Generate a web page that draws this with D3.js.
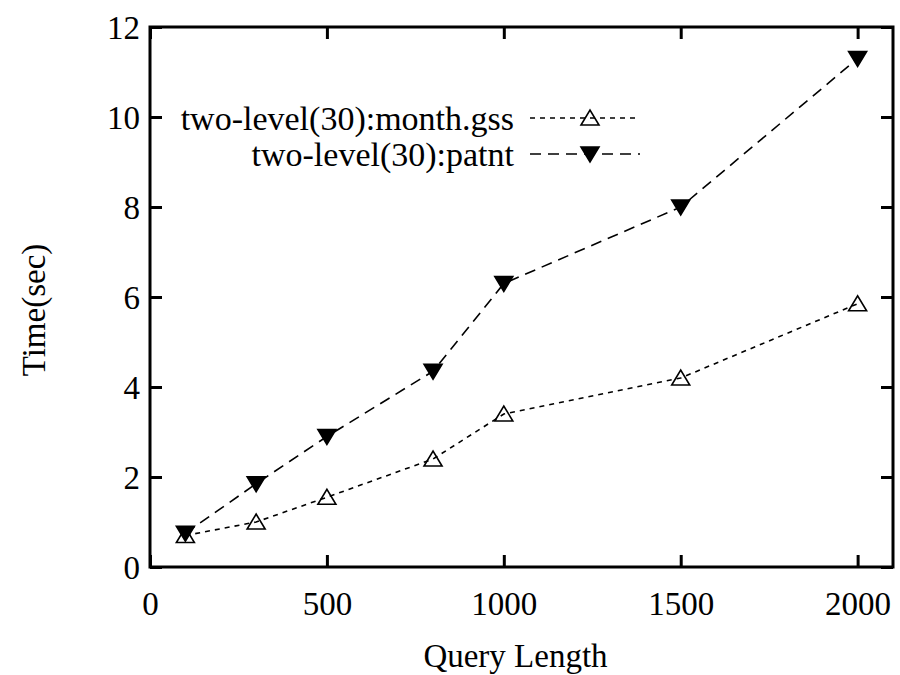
<!DOCTYPE html>
<html><head><meta charset="utf-8">
<script src="https://cdn.jsdelivr.net/npm/d3@7"></script>
<style>body{margin:0;background:#fff}svg{display:block}text{font-family:"Liberation Serif","Times New Roman",serif;fill:#000}</style>
</head><body>
<script>
const queryLength = [100, 300, 500, 800, 1000, 1500, 2000];
const monthGss = [0.7, 1.0, 1.55, 2.4, 3.4, 4.2, 5.85];
const patnt = [0.75, 1.85, 2.9, 4.35, 6.3, 8.0, 11.3];
const seriesNames = ["two-level(30):month.gss", "two-level(30):patnt"];
const xTicks = [0, 500, 1000, 1500, 2000];
const yTicks = [0, 2, 4, 6, 8, 10, 12];

const W = 900, H = 675;
const L = 150, R = 893, T = 27, B = 567;
const svg = d3.select("body").append("svg").attr("width", W).attr("height", H);
const x = d3.scaleLinear().domain([0, 2100]).range([L, R]);
const y = d3.scaleLinear().domain([0, 12]).range([B, T]);
const fs = 33;
const lfs = 34;
const ff = "Liberation Serif";

const xAxis = svg.append("g").attr("transform", `translate(0,${B})`)
  .call(d3.axisBottom(x).tickValues(xTicks).tickSize(-12).tickPadding(25).tickFormat(d3.format("d")));
const yAxis = svg.append("g").attr("transform", `translate(${L},0)`)
  .call(d3.axisLeft(y).tickValues(yTicks).tickSize(-12).tickPadding(10).tickFormat(d3.format("d")));
const xTop = svg.append("g").attr("transform", `translate(0,${T})`)
  .call(d3.axisTop(x).tickValues(xTicks).tickSize(-12).tickFormat(""));
const yRight = svg.append("g").attr("transform", `translate(${R},0)`)
  .call(d3.axisRight(y).tickValues(yTicks).tickSize(-12).tickFormat(""));
[xAxis, yAxis, xTop, yRight].forEach(g => {
  g.attr("font-family", ff).attr("font-size", fs);
  g.select(".domain").remove();
  g.selectAll(".tick line").attr("stroke", "#000").attr("stroke-width", 3);
  g.selectAll(".tick text").attr("font-size", fs).attr("font-family", ff);
});
xAxis.selectAll(".tick text").attr("dy", "0.71em");
yAxis.selectAll(".tick text").attr("dy", "0.35em");
svg.append("rect").attr("x", L).attr("y", T).attr("width", R - L).attr("height", B - T)
  .attr("fill", "none").attr("stroke", "#000").attr("stroke-width", 3);

svg.append("text").attr("x", (L + R) / 2 - 6).attr("y", 667).attr("text-anchor", "middle")
  .attr("font-family", ff).attr("font-size", fs).text("Query Length");
svg.append("text").attr("transform", `translate(45,310) rotate(-90)`)
  .attr("text-anchor", "middle").attr("font-family", ff).attr("font-size", fs).text("Time(sec)");

const upTri = "M-9,7L9,7L0,-8Z";
const downTri = "M-9,-7L9,-7L0,8Z";

const series = [
  {name: seriesNames[0], vals: monthGss, dash: "5,5", filled: false},
  {name: seriesNames[1], vals: patnt, dash: "11,7", filled: true}
];
const line = d3.line().x(d => x(d[0])).y(d => y(d[1]));
series.forEach(s => {
  const pts = queryLength.map((q, i) => [q, s.vals[i]]);
  svg.append("path").attr("d", line(pts)).attr("fill", "none").attr("stroke", "#000")
    .attr("stroke-width", 1.6).attr("stroke-dasharray", s.dash);
  svg.selectAll(null).data(pts).enter().append("path")
    .attr("transform", d => `translate(${x(d[0])},${y(d[1])})`)
    .attr("d", s.filled ? downTri : upTri)
    .attr("fill", s.filled ? "#000" : "none").attr("stroke", "#000").attr("stroke-width", 1.6);
});

const legY = [118, 154];
series.forEach((s, i) => {
  const ly = legY[i];
  svg.append("text").attr("x", 514).attr("y", ly).attr("dy", "0.35em").attr("text-anchor", "end")
    .attr("font-family", ff).attr("font-size", lfs).text(s.name);
  svg.append("line").attr("x1", 530).attr("x2", 640).attr("y1", ly).attr("y2", ly)
    .attr("stroke", "#000").attr("stroke-width", 1.6).attr("stroke-dasharray", s.dash);
  svg.append("path").attr("transform", `translate(590,${ly})`)
    .attr("d", s.filled ? downTri : upTri)
    .attr("fill", s.filled ? "#000" : "none").attr("stroke", "#000").attr("stroke-width", 1.6);
});
</script>
</body></html>
